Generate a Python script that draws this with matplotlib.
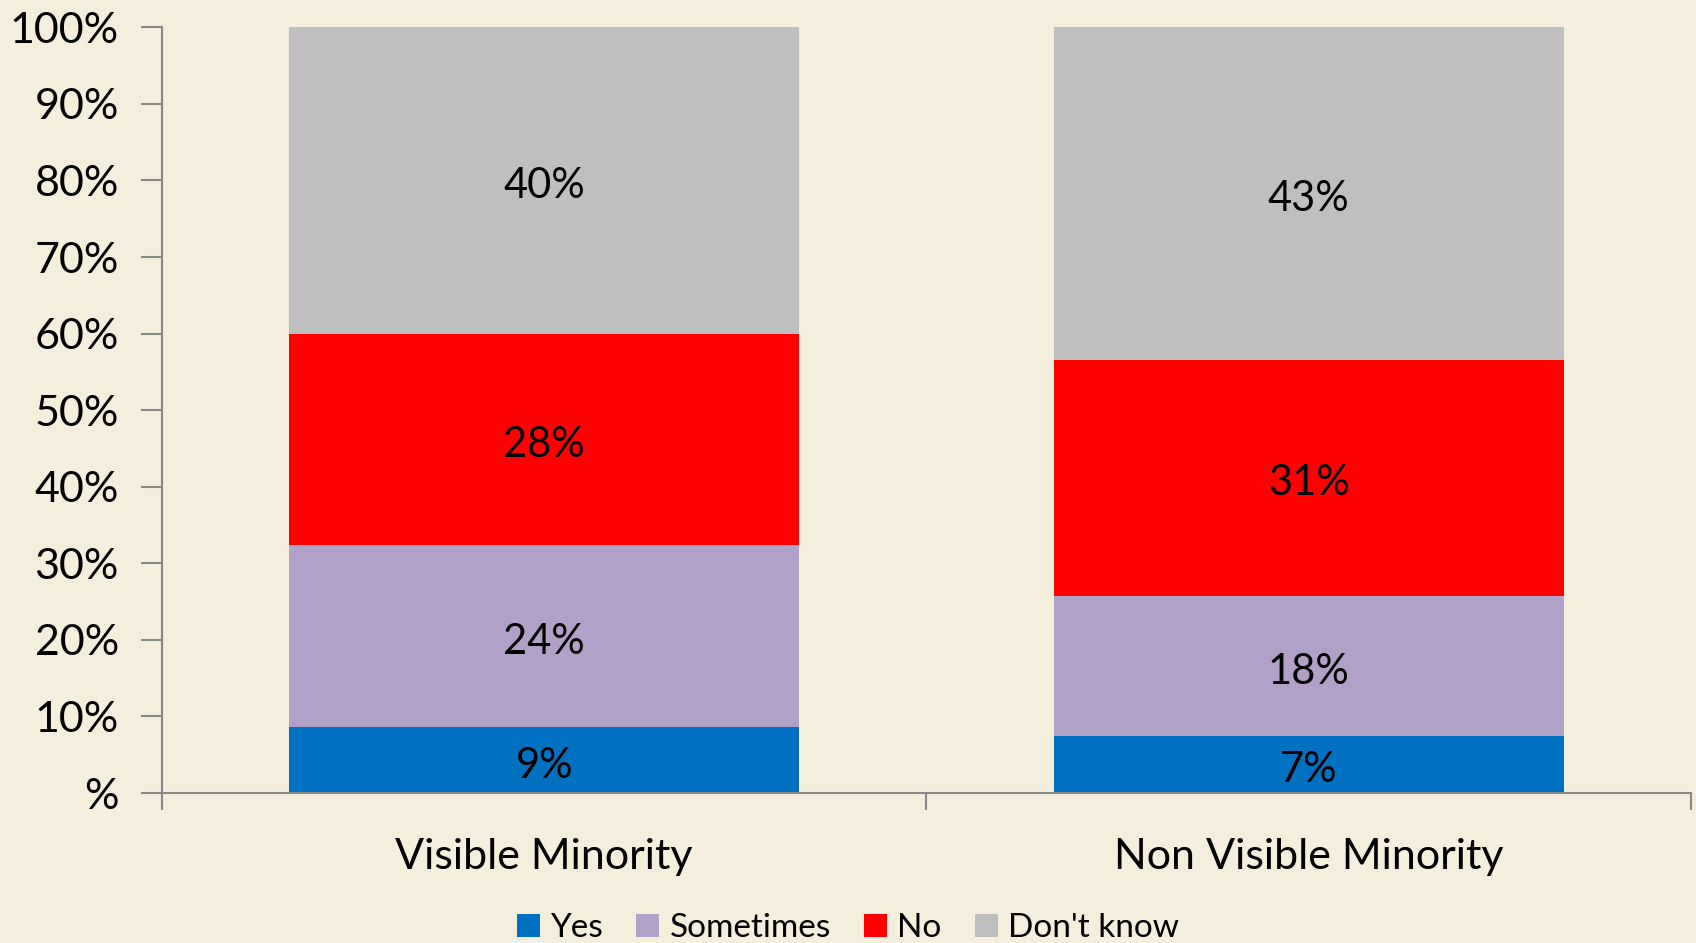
import matplotlib
matplotlib.use("Agg")
import matplotlib.pyplot as plt
from matplotlib.patches import Patch

categories = ["Visible Minority", "Non Visible Minority"]
series_names = ["Yes", "Sometimes", "No", "Don't know"]
yes = [8.6, 7.4]
sometimes = [23.8, 18.4]
no = [27.6, 30.8]
dont_know = [40.0, 43.4]
series_values = [yes, sometimes, no, dont_know]
colors = ["#0070C0", "#B1A0C7", "#FF0000", "#BFBFBF"]
ytick_vals = [0, 10, 20, 30, 40, 50, 60, 70, 80, 90, 100]
ytick_labels = ["%", "10%", "20%", "30%", "40%", "50%", "60%", "70%", "80%", "90%", "100%"]

plt.rcParams['font.family'] = ['Lato', 'DejaVu Sans']
bg = "#F4EEDD"
fig = plt.figure(figsize=(16.96, 9.43), dpi=100, facecolor=bg)
ax = fig.add_axes([0.0955, 0.159, 0.9015, 0.812])
ax.set_facecolor(bg)

x = list(range(len(categories)))
bottoms = [0.0] * len(categories)
for name, vals, c in zip(series_names, series_values, colors):
    ax.bar(x, vals, bottom=bottoms, width=0.667, color=c, label=name, zorder=2)
    for xi, v, b in zip(x, vals, bottoms):
        ax.annotate(f"{round(v)}%", (xi, b + v / 2), xytext=(0, -4), textcoords="offset points",
                    ha="center", va="center", fontsize=30, color="black", zorder=3)
    bottoms = [b + v for b, v in zip(bottoms, vals)]

ax.set_xlim(-0.5, 1.5)
ax.set_ylim(0, 100)
ax.set_yticks(ytick_vals)
ax.set_yticklabels(ytick_labels, fontsize=31)
ax.set_xticks(x)
ax.set_xticklabels(categories, fontsize=31)
ax.tick_params(axis="x", which="major", length=0, pad=32)
ax.set_xticks([-0.5, 0.5, 1.5], minor=True)
ax.tick_params(axis="x", which="minor", length=12, color="#888888", width=1.5, direction="out")
ax.tick_params(axis="y", length=15, color="#888888", width=1.5, direction="out", pad=16)
for s in ["top", "right"]:
    ax.spines[s].set_visible(False)
for s in ["left", "bottom"]:
    ax.spines[s].set_color("#888888")
    ax.spines[s].set_linewidth(1.5)

handles = [Patch(facecolor=c, edgecolor="none") for c in colors]
fig.legend(handles, series_names, loc="center", bbox_to_anchor=(0.5, 0.016),
           ncol=4, frameon=False, fontsize=24, handlelength=0.7, handleheight=0.7,
           handletextpad=0.3, columnspacing=1.0)

fig.savefig("out.png", dpi=100, facecolor=bg)
